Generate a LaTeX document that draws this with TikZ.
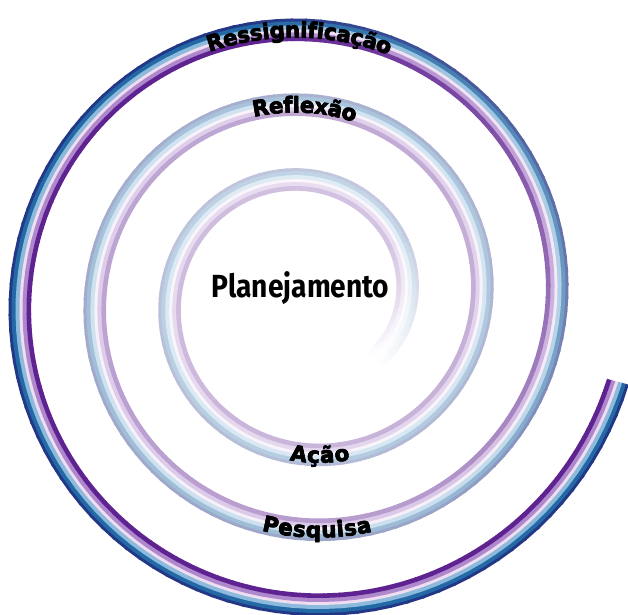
\documentclass[tikz,border=0pt]{standalone}
\usepackage{fontspec}
\usepackage{xcolor}
\usepackage{tikz}
\usetikzlibrary{decorations.text}
\newfontfamily\rotulofonte{DejaVu Sans Bold}
\newfontfamily\halofonte{DejaVu Sans Bold}[FakeBold=3]
\newfontfamily\planofonte{Fira Sans Bold}[FakeStretch=0.88]
\definecolor{azulescuro}{RGB}{35,55,135}
\definecolor{azulmedio}{RGB}{35,105,165}
\definecolor{azulclaro}{RGB}{140,185,220}
\definecolor{rosaclaro}{RGB}{238,222,240}
\definecolor{lilas}{RGB}{175,135,205}
\definecolor{roxo}{RGB}{95,35,145}

\begin{document}
\begin{tikzpicture}[x=1pt,y=1pt,
rotulo/.style={decorate,decoration={text along path,text align=center,raise=-7.8pt,
  text={|\rotulofonte\fontsize{21.5}{25}\selectfont|#1}}},
halo/.style={color=white,decorate,decoration={text along path,text align=center,raise=-7.8pt,
  text={|\halofonte\fontsize{21.5}{25}\selectfont|#1}}},
titulo/.style={font=\planofonte\fontsize{32}{36}\selectfont,anchor=base,inner sep=0pt}
]
\useasboundingbox (0,0) rectangle (628,-614);
\coordinate (centro) at (307.25,-298.5);

\begin{scope}[shift={(centro)}]
\foreach \p in {-45,-42,...,1062}{
  \pgfmathtruncatemacro{\forca}{\p<30 ? 0.36*(\p+45) : (\p<660 ? 27+(\p-30)/33 : (\p<820 ? 46+(\p-660)*0.3375 : 100))}
  \pgfmathsetmacro{\fim}{\p<1062 ? \p+3.4 : \p+3}
  \foreach \cor/\desl/\larg in {azulescuro/9.5/3,azulmedio/6/4,azulclaro/2/4,rosaclaro/-1.5/3,lilas/-5/4,roxo/-9/4}{
    \pgfmathsetmacro{\ra}{99.75+\p/4.8+\desl}
    \pgfmathsetmacro{\rb}{99.75+\fim/4.8+\desl}
    \draw[line width=\larg pt+0.6pt,\cor!\forca!white] (\p:\ra pt) -- (\fim:\rb pt);
  }
}
\end{scope}

\node[titulo] (plano) at (300.5,-297) {Planejamento};

\begin{scope}[shift={(centro)}]
\foreach \estilo in {halo,rotulo}{
  \path[\estilo={Ressignificação}] plot[domain=852:770,samples=40] (\x:{99.75+\x/4.8});
  \path[\estilo={Reflexão}] plot[domain=486:414,samples=40] (\x:{99.75+\x/4.8});
  \path[\estilo={Ação}] plot[domain=244:304,samples=40] (\x:{99.75+\x/4.8});
  \path[\estilo={Pesquisa}] plot[domain=602:662,samples=40] (\x:{99.75+\x/4.8});
}
\end{scope}
\end{tikzpicture}
\end{document}
